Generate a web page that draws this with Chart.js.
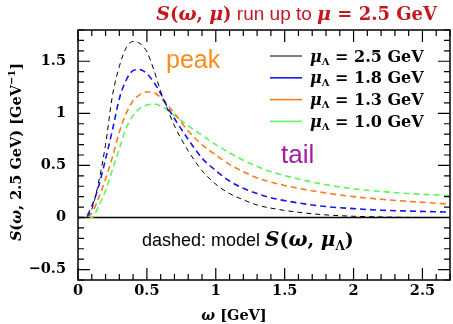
<!DOCTYPE html>
<html>
<head>
<meta charset="utf-8">
<script src="https://cdn.jsdelivr.net/npm/chart.js@4"></script>
<style>
  html, body { margin: 0; padding: 0; background: #fff; }
  canvas { display: block; }
</style>
</head>
<body>
<canvas id="chart" width="453" height="324"></canvas>
<script>
// omega grid [GeV] and S(omega, 2.5 GeV) for each mu_Lambda
const omega = [0, 0.05, 0.1, 0.15, 0.2, 0.25, 0.3, 0.35, 0.4, 0.45, 0.5, 0.55, 0.6, 0.65, 0.7, 0.8, 0.9, 1.0, 1.1, 1.2, 1.3, 1.4, 1.6, 1.8, 2.0, 2.2, 2.4, 2.7];
const s25 = [0, 0, 0.08, 0.34, 0.7, 1.17, 1.45, 1.63, 1.69, 1.67, 1.59, 1.42, 1.21, 1.04, 0.88, 0.64, 0.45, 0.32, 0.23, 0.17, 0.12, 0.09, 0.05, 0.025, 0.012, 0.005, 0.001, 0];
const s18 = [0, 0, 0.11, 0.3, 0.56, 0.84, 1.14, 1.32, 1.41, 1.42, 1.38, 1.3, 1.19, 1.06, 0.95, 0.75, 0.57, 0.45, 0.35, 0.28, 0.23, 0.19, 0.14, 0.105, 0.085, 0.07, 0.062, 0.052];
const s13 = [0, 0, 0.04, 0.19, 0.37, 0.58, 0.82, 1.0, 1.12, 1.18, 1.205, 1.2, 1.15, 1.08, 1.0, 0.83, 0.7, 0.6, 0.51, 0.44, 0.38, 0.34, 0.28, 0.235, 0.2, 0.175, 0.155, 0.128];
const s10 = [0, 0, 0, 0.11, 0.26, 0.46, 0.66, 0.86, 0.98, 1.05, 1.08, 1.09, 1.07, 1.03, 0.98, 0.88, 0.79, 0.7, 0.62, 0.55, 0.49, 0.44, 0.37, 0.315, 0.275, 0.25, 0.23, 0.21];

const muLabels = ['2.5', '1.8', '1.3', '1.0'];
const colors = ['#000000', '#1515ff', '#ff7a1a', '#5cf55c'];
const xMajor = [0, 0.5, 1, 1.5, 2, 2.5];
const yMajor = [-0.5, 0, 0.5, 1, 1.5];

const SERIF = '"DejaVu Serif"';
const SANS = '"Liberation Sans"';

function fmt(v) {
  const r = Math.round(v * 10) / 10;
  return (r < 0 ? '\u2212' : '') + String(Math.abs(r));
}

function drawRuns(ctx, runs, x, y, align) {
  let total = 0;
  runs.forEach(r => { ctx.font = r.f; total += ctx.measureText(r.t).width; });
  let cx = align === 'right' ? x - total : align === 'center' ? x - total / 2 : x;
  ctx.textAlign = 'left';
  ctx.textBaseline = 'alphabetic';
  runs.forEach(r => {
    ctx.font = r.f;
    ctx.fillText(r.t, cx, y + (r.dy || 0));
    cx += ctx.measureText(r.t).width;
  });
}

const decor = {
  id: 'decor',
  beforeDatasetsDraw(chart) {
    const ctx = chart.ctx, a = chart.chartArea, y0 = chart.scales.y.getPixelForValue(0);
    ctx.save();
    ctx.strokeStyle = '#000';
    ctx.lineWidth = 1.3;
    ctx.beginPath();
    ctx.moveTo(a.left, y0);
    ctx.lineTo(a.right, y0);
    ctx.stroke();
    ctx.restore();
  },
  afterDraw(chart) {
    const ctx = chart.ctx, a = chart.chartArea;
    const xs = chart.scales.x, ys = chart.scales.y;
    ctx.save();
    ctx.strokeStyle = '#000';
    ctx.lineWidth = 1.5;
    ctx.strokeRect(a.left, a.top, a.right - a.left, a.bottom - a.top);
    ctx.lineWidth = 1.2;
    ctx.beginPath();
    xs.ticks.forEach(t => {
      const p = xs.getPixelForValue(t.value);
      const len = xMajor.some(m => Math.abs(m - t.value) < 1e-6) ? 12 : 6;
      ctx.moveTo(p, a.bottom); ctx.lineTo(p, a.bottom - len);
      ctx.moveTo(p, a.top); ctx.lineTo(p, a.top + len);
    });
    ys.ticks.forEach(t => {
      const p = ys.getPixelForValue(t.value);
      const len = yMajor.some(m => Math.abs(m - t.value) < 1e-6) ? 12 : 6;
      ctx.moveTo(a.left, p); ctx.lineTo(a.left + len, p);
      ctx.moveTo(a.right, p); ctx.lineTo(a.right - len, p);
    });
    ctx.stroke();

    const bi = 'italic bold 19px ' + SERIF, b = 'bold 18px ' + SERIF;

    // title
    ctx.fillStyle = '#c8161e';
    drawRuns(ctx, [
      { t: 'S', f: bi }, { t: '(', f: b }, { t: 'ω', f: bi }, { t: ', ', f: b },
      { t: 'μ', f: bi }, { t: ')', f: b }, { t: ' run up to ', f: '19px ' + SANS },
      { t: 'μ', f: bi }, { t: ' = 2.5 GeV', f: b }
    ], 437, 20, 'right');

    // axis titles
    ctx.fillStyle = '#000';
    drawRuns(ctx, [{ t: 'ω', f: 'italic bold 14.5px ' + SERIF }, { t: ' [GeV]', f: 'bold 14.5px ' + SERIF }], 234, 320, 'center');
    ctx.save();
    ctx.translate(21, 152);
    ctx.rotate(-Math.PI / 2);
    const ab = 'bold 14.5px ' + SERIF, abi = 'italic bold 14.5px ' + SERIF;
    drawRuns(ctx, [
      { t: 'S', f: abi }, { t: '(', f: ab }, { t: 'ω', f: abi }, { t: ', 2.5 GeV) [GeV', f: ab },
      { t: '\u22121', f: 'bold 10px ' + SERIF, dy: -6 }, { t: ']', f: ab }
    ], 0, 0, 'center');
    ctx.restore();

    // legend
    const lb = 'bold 16px ' + SERIF, lbi = 'italic bold 16px ' + SERIF;
    muLabels.forEach((m, i) => {
      const yy = 56 + i * 21.8;
      ctx.strokeStyle = colors[i];
      ctx.lineWidth = i === 0 ? 1 : 1.6;
      ctx.beginPath();
      ctx.moveTo(270, yy); ctx.lineTo(302, yy);
      ctx.stroke();
      ctx.fillStyle = '#000';
      drawRuns(ctx, [
        { t: 'μ', f: lbi }, { t: 'Λ', f: 'bold 10px ' + SERIF, dy: 3 }, { t: ' = ' + m + ' GeV', f: lb }
      ], 310, yy + 5.5, 'left');
    });

    // annotations
    ctx.fillStyle = '#ff8a1a';
    drawRuns(ctx, [{ t: 'peak', f: '25px ' + SANS }], 166, 68, 'left');
    ctx.fillStyle = '#a51aa5';
    drawRuns(ctx, [{ t: 'tail', f: '26px ' + SANS }], 281, 163, 'left');
    ctx.fillStyle = '#000';
    const nb = 'bold 19px ' + SERIF, nbi = 'italic bold 20px ' + SERIF;
    drawRuns(ctx, [
      { t: 'dashed: model ', f: '18px ' + SANS }, { t: 'S', f: nbi }, { t: '(', f: nb },
      { t: 'ω', f: nbi }, { t: ', ', f: nb }, { t: 'μ', f: nbi },
      { t: 'Λ', f: 'bold 12px ' + SERIF, dy: 4 }, { t: ')', f: nb }
    ], 142, 246, 'left');
    ctx.restore();
  }
};

const series = [s25, s18, s13, s10];
new Chart(document.getElementById('chart'), {
  type: 'line',
  data: {
    datasets: series.map((s, i) => ({
      label: muLabels[i],
      data: omega.map((w, k) => ({ x: w, y: s[k] })),
      borderColor: colors[i],
      borderWidth: i === 0 ? 1 : 1.6,
      borderDash: i === 0 ? [5, 4] : [6, 4],
      pointRadius: 0,
      cubicInterpolationMode: 'monotone',
      fill: false
    }))
  },
  options: {
    responsive: false,
    animation: false,
    layout: { padding: { top: 30, right: 1, left: 0, bottom: 0 } },
    plugins: { legend: { display: false }, tooltip: { enabled: false } },
    scales: {
      x: {
        type: 'linear', min: 0, max: 2.7,
        grid: { display: false, drawTicks: false },
        border: { display: false },
        ticks: {
          stepSize: 0.1, autoSkip: false, maxRotation: 0, includeBounds: false, padding: 3,
          color: '#000', font: { family: 'DejaVu Serif', weight: 'bold', size: 14.5 },
          callback: v => xMajor.some(m => Math.abs(m - v) < 1e-6) ? fmt(v) : ''
        },
        afterFit: s => { s.height = 44; }
      },
      y: {
        min: -0.6, max: 1.8,
        grid: { display: false, drawTicks: false },
        border: { display: false },
        ticks: {
          stepSize: 0.1, autoSkip: false, includeBounds: false, padding: 12,
          color: '#000', font: { family: 'DejaVu Serif', weight: 'bold', size: 14.5 },
          callback: v => yMajor.some(m => Math.abs(m - v) < 1e-6) ? fmt(v) : ''
        },
        afterFit: s => { s.width = 78; }
      }
    }
  },
  plugins: [decor]
});
</script>
</body>
</html>
